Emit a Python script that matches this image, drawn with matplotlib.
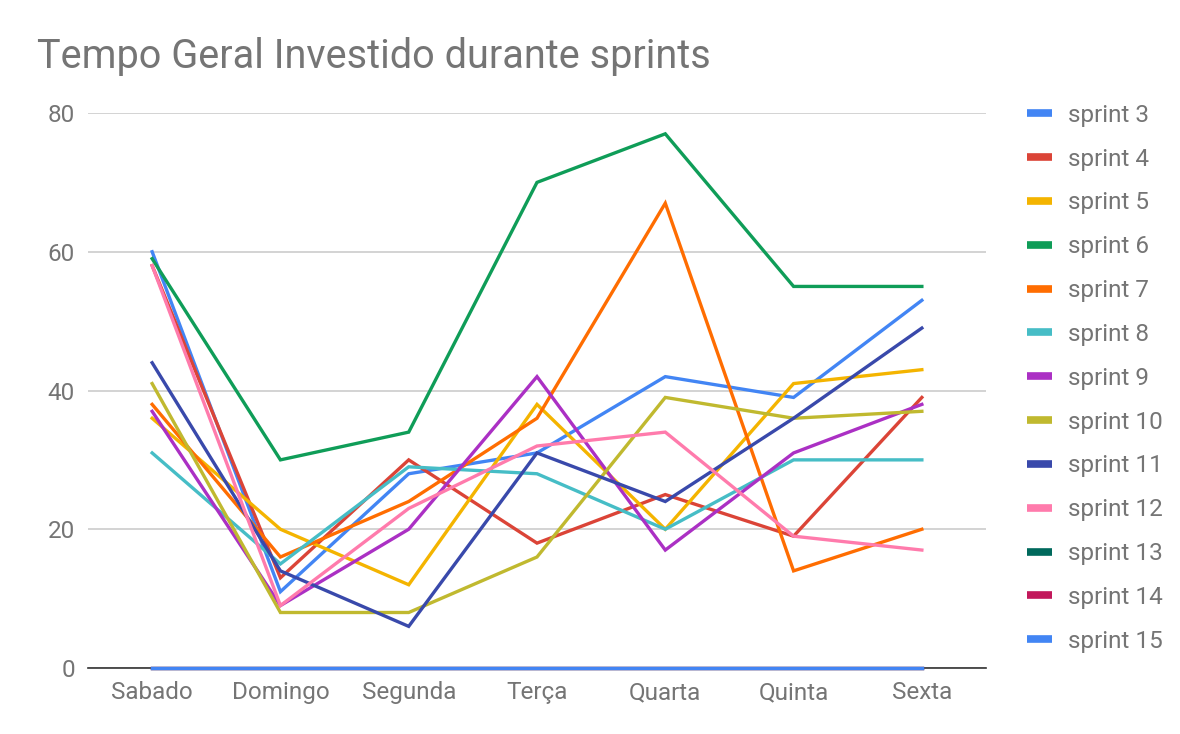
import matplotlib
matplotlib.use("Agg")
import matplotlib.pyplot as plt
from matplotlib.lines import Line2D

plt.rcParams['font.family'] = ['Roboto', 'DejaVu Sans']

days = ["Sabado", "Domingo", "Segunda", "Terça", "Quarta", "Quinta", "Sexta"]

sprint_3 = [60, 11, 28, 31, 42, 39, 53]
sprint_4 = [58, 13, 30, 18, 25, 19, 39]
sprint_5 = [36, 20, 12, 38, 20, 41, 43]
sprint_6 = [59, 30, 34, 70, 77, 55, 55]
sprint_7 = [38, 16, 24, 36, 67, 14, 20]
sprint_8 = [31, 15, 29, 28, 20, 30, 30]
sprint_9 = [37, 9, 20, 42, 17, 31, 38]
sprint_10 = [41, 8, 8, 16, 39, 36, 37]
sprint_11 = [44, 14, 6, 31, 24, 36, 49]
sprint_12 = [58, 9, 23, 32, 34, 19, 17]
sprint_13 = [0, 0, 0, 0, 0, 0, 0]
sprint_14 = [0, 0, 0, 0, 0, 0, 0]
sprint_15 = [0, 0, 0, 0, 0, 0, 0]

series_names = ["sprint 3", "sprint 4", "sprint 5", "sprint 6", "sprint 7", "sprint 8",
                "sprint 9", "sprint 10", "sprint 11", "sprint 12", "sprint 13",
                "sprint 14", "sprint 15"]
series_values = [sprint_3, sprint_4, sprint_5, sprint_6, sprint_7, sprint_8, sprint_9,
                 sprint_10, sprint_11, sprint_12, sprint_13, sprint_14, sprint_15]
colors = ["#4285F4", "#DB4437", "#F4B400", "#0F9D58", "#FF6D01", "#46BDC6", "#AB30C4",
          "#C0B92F", "#3949AB", "#FF7BAC", "#00695C", "#C2185B", "#4285F4"]

y_ticks = [0, 20, 40, 60, 80]

text_color = "#757575"
FS = 17.5

fig = plt.figure(figsize=(11.8, 7.34), dpi=100)
ax = fig.add_axes([88/1180, 66/734, (986-88)/1180, (668-113)/734])

x = list(range(len(days)))
for name, vals, c in zip(series_names, series_values, colors):
    ax.plot(x, vals, color=c, lw=2.4, label=name, solid_joinstyle='miter',
            clip_on=False, zorder=3)

ax.set_xlim(-0.5, len(days) - 0.5)
ax.set_ylim(0, 80)
ax.set_yticks(y_ticks)
ax.set_xticks(x)
ax.set_xticklabels(days)
ax.grid(axis='y', color="#cccccc", lw=1.2)
ax.set_axisbelow(True)
for s in ['top', 'right', 'left']:
    ax.spines[s].set_visible(False)
ax.spines['bottom'].set_color("#333333")
ax.spines['bottom'].set_linewidth(1.2)
ax.spines['bottom'].set_zorder(1.5)
ax.tick_params(axis='both', length=0, labelsize=FS, labelcolor=text_color)
ax.tick_params(axis='y', pad=9.5)
ax.tick_params(axis='x', pad=9.5)

fig.text(37/1180, 1 - 57/734, "Tempo Geral Investido durante sprints", fontsize=28.5,
         color=text_color, va='center', ha='left')

leg_handles = [Line2D([0], [0], color=c, lw=5.5, solid_capstyle='butt') for c in colors]
fig.legend(leg_handles, series_names, loc='upper left',
           bbox_to_anchor=(1020/1180, 1 - 96.5/734), frameon=False,
           fontsize=FS, labelcolor=text_color, handlelength=1.03,
           handletextpad=0.66, labelspacing=0.857, borderaxespad=0, borderpad=0.3)

fig.savefig("out.png", dpi=100, facecolor="white")
